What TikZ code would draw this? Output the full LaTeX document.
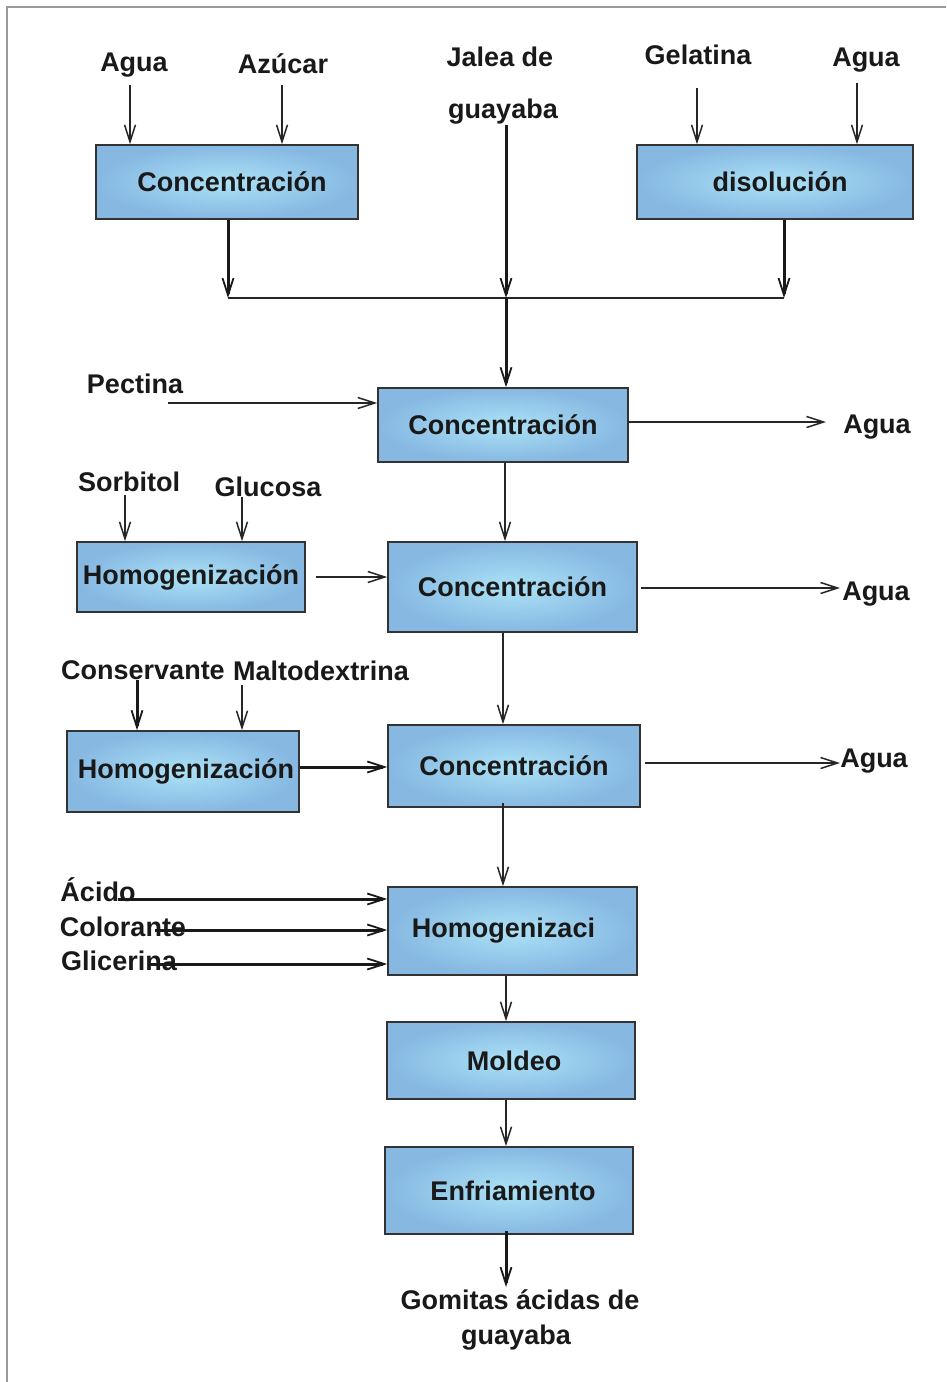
\documentclass[tikz,border=0pt]{standalone}
\usepackage{fontspec}
\setmainfont{Liberation Sans}
\usetikzlibrary{arrows.meta,calc}
\definecolor{boxout}{HTML}{86B8E2}
\definecolor{boxin}{HTML}{ACE2F6}
\definecolor{frame}{HTML}{9A9A9A}
\tikzset{
  proc/.style={draw=black!80, line width=1.6pt, inner color=boxin, outer color=boxout,
    font=\fontsize{27}{31}\selectfont\bfseries, text=black!90},
  lbl/.style={font=\fontsize{27}{31}\selectfont\bfseries, text=black!90, inner sep=0pt},
  arr/.style={line width=1.6pt, draw=black!85, -{Straight Barb[length=17pt,width=11pt,line width=1.5pt]}},
  arrt/.style={line width=3pt, draw=black!90, -{Straight Barb[length=17pt,width=11pt,line width=1.8pt]}},
  ln/.style={line width=2pt, draw=black!85},
}
\begin{document}
\begin{tikzpicture}[x=1pt,y=-1pt]
\useasboundingbox (0,0) rectangle (946,1382);
\fill[white] (0,0) rectangle (946,1382);
\draw[frame, line width=1.5pt] (7,1382) -- (7,7) -- (946,7);

% process boxes
\node[proc, minimum width=262, minimum height=74] (c0) at (227,182) {\hspace*{10pt}Concentración};
\node[proc, minimum width=276, minimum height=74] (dis) at (775,182) {\hspace*{10pt}disolución};
\node[proc, minimum width=250, minimum height=74] (c1) at (503,425) {Concentración};
\node[proc, minimum width=249, minimum height=90] (c2) at (512.5,587) {Concentración};
\node[proc, minimum width=252, minimum height=82] (c3) at (514,766) {Concentración};
\node[proc, minimum width=228, minimum height=70] (h1) at (191,577) {Homogenización};
\node[proc, minimum width=232, minimum height=81] (h2) at (183,771.5) {\hspace*{6pt}Homogenización};
\node[proc, minimum width=249, minimum height=88] (h3) at (512.5,931) {Homogenizaci\hspace*{18pt}};
\node[proc, minimum width=248, minimum height=77] (mol) at (511,1060.5) {\hspace*{6pt}Moldeo};
\node[proc, minimum width=248, minimum height=87] (enf) at (509,1190.5) {\hspace*{8pt}Enfriamiento};

% labels
\node[lbl] (lagua1) at (134,65) {Agua};
\node[lbl] (lazu) at (283,64) {Azúcar};
\node[lbl] (ljal) at (500,57) {Jalea de};
\node[lbl] (lguay) at (503,112) {guayaba};
\node[lbl] (lgel) at (698,55) {Gelatina};
\node[lbl] (lagua2) at (866,60) {Agua};
\node[lbl] (lpec) at (135,384) {Pectina};
\node[lbl] (lw1) at (877,427) {Agua};
\node[lbl] (lsor) at (129,482) {Sorbitol};
\node[lbl] (lglu) at (268,487) {Glucosa};
\node[lbl] (lw2) at (876,594) {Agua};
\node[lbl] (lcon) at (143,670) {Conservante};
\node[lbl] (lmal) at (321,671) {Maltodextrina};
\node[lbl] (lw3) at (874,761) {Agua};
\node[lbl] (laci) at (98,890) {Ácido};
\node[lbl] (lcol) at (123,927) {Colorante};
\node[lbl] (lgli) at (119,961) {Glicerina};
\node[lbl] (lgom1) at (520,1300) {Gomitas ácidas de};
\node[lbl] (lgom2) at (516,1338) {guayaba};

% free ends
\coordinate (s1) at (130,85);
\coordinate (s2) at (282,85);
\coordinate (s3) at (697,88);
\coordinate (s4) at (857,83);
\coordinate (sj) at (506,125);
\coordinate (jl) at (228,298);
\coordinate (jm) at (506,298);
\coordinate (jr) at (784,298);
\coordinate (sp) at (168,403);
\coordinate (e1) at (826,422);
\coordinate (s5) at (125,495);
\coordinate (s6) at (242,497);
\coordinate (o2s) at (641,588);
\coordinate (e2) at (840,588);
\coordinate (s7) at (137,680);
\coordinate (s8) at (242,685);
\coordinate (o3s) at (645,763);
\coordinate (e3) at (840,763);
\coordinate (sa) at (118,899);
\coordinate (sc) at (155,930);
\coordinate (sg) at (148,964);
\coordinate (ep) at (506,1287);

% top inputs
\draw[arr] (s1) -- (s1 |- c0.north);
\draw[arr] (s2) -- (s2 |- c0.north);
\draw[arr] (s3) -- (s3 |- dis.north);
\draw[arr] (s4) -- (s4 |- dis.north);
\draw[arrt] (c0.south -| jl) -- (jl);
\draw[arrt] (dis.south -| jr) -- (jr);
\draw[ln] (jl) -- (jr);
\draw[arrt] (sj) -- (jm);
\draw[arrt] (jm) -- (jm |- c1.north);

% main line
\draw[arr] (sp) -- (sp -| c1.west);
\draw[arr] (c1.east |- e1) -- (e1);
\draw[arr] (c1.south -| 505,0) -- (505,0 |- c2.north);
\draw[arr] (s5) -- (s5 |- h1.north);
\draw[arr] (s6) -- (s6 |- h1.north);
\draw[arr] ([xshift=10pt]h1.east) -- (h1.east -| c2.west);
\draw[arr] (o2s) -- (e2);
\draw[arr] (c2.south -| 503,0) -- (503,0 |- c3.north);
\draw[arrt] (s7) -- (s7 |- h2.north);
\draw[arr] (s8) -- (s8 |- h2.north);
\draw[arrt] (h2.east |- 0,767) -- (c3.west |- 0,767);
\draw[arr] (o3s) -- (e3);
\draw[arr] ([yshift=5pt]c3.south -| 503,0) -- (503,0 |- h3.north);
\draw[arrt] (sa) -- (sa -| h3.west);
\draw[arrt] (sc) -- (sc -| h3.west);
\draw[arrt] (sg) -- (sg -| h3.west);
\draw[arr] (h3.south -| 506,0) -- (506,0 |- mol.north);
\draw[arr] (mol.south -| 506,0) -- (506,0 |- enf.north);
\draw[arrt] ([yshift=4pt]enf.south -| ep) -- (ep);
\end{tikzpicture}
\end{document}
